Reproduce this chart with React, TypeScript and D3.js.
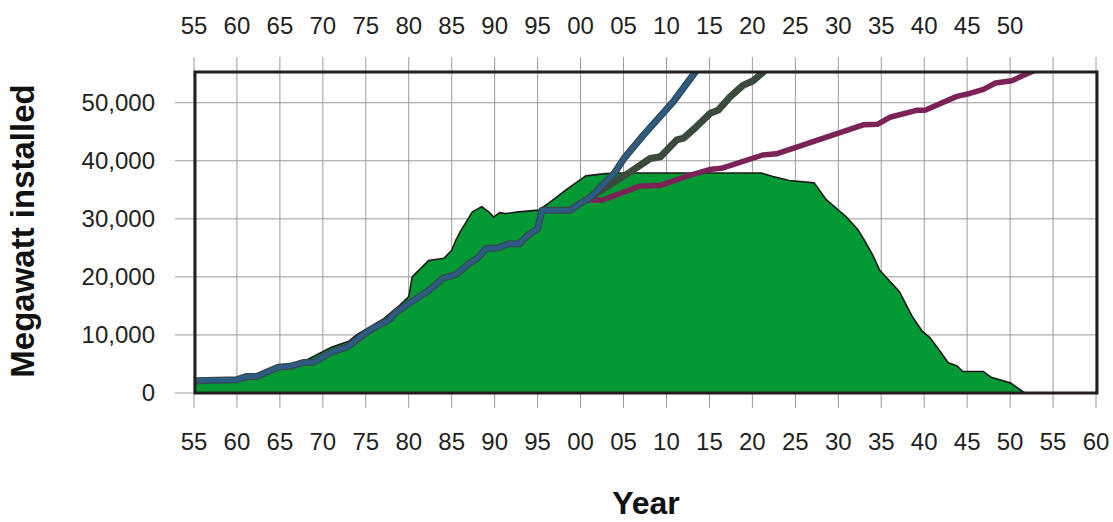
import React, { useEffect, useRef } from 'react'
import * as d3 from 'd3'

// installed capacity (area under black outline)
const installedYears = [1955, 1960, 1962, 1965, 1968, 1971, 1973, 1974, 1977, 1979, 1980, 1980.4, 1982.3, 1984.1, 1985, 1985.5, 1986, 1987.4, 1988.5, 1989.3, 1989.9, 1990.6, 1991.2, 1992.8, 1995.1, 1996.3, 1998.3, 2000.6, 2002.9, 2005, 2021, 2022.4, 2024.3, 2027.2, 2028.6, 2030.9, 2032.3, 2033, 2034, 2034.8, 2037.1, 2038.6, 2039.8, 2040.7, 2041.7, 2042.8, 2043.8, 2044.5, 2046.9, 2047.8, 2050.1, 2051.7]
const installedValues = [1900, 2100, 2500, 4300, 5600, 7900, 8900, 10100, 12700, 15200, 16600, 20000, 22800, 23200, 24600, 26400, 27800, 31200, 32100, 31200, 30300, 31100, 30900, 31200, 31500, 32700, 35000, 37400, 37800, 37900, 37900, 37300, 36600, 36200, 33300, 30400, 28100, 26400, 23800, 21200, 17500, 13200, 10600, 9500, 7500, 5200, 4700, 3700, 3700, 2700, 1700, 0]

// blue scenario
const blueYears = [1955, 1960, 1961.1, 1962.3, 1964.8, 1966.2, 1967.7, 1968.9, 1971.2, 1972.8, 1974.7, 1975.9, 1977.6, 1978.6, 1980.1, 1982.2, 1984, 1985.5, 1987.1, 1987.9, 1989, 1990.4, 1991.7, 1992.9, 1993.7, 1995, 1995.5, 1998.8, 2000, 2001.2, 2003.9, 2005, 2007.3, 2010.8, 2013.3, 2014]
const blueValues = [2100, 2300, 2850, 2850, 4450, 4600, 5250, 5300, 7150, 7900, 10000, 11200, 12500, 14000, 15500, 17500, 19800, 20400, 22400, 23100, 24900, 25000, 25700, 25700, 27000, 28300, 31500, 31500, 32700, 33800, 37800, 40300, 44400, 50200, 55200, 56500]

// dark green scenario
const darkYears = [2001.2, 2005.8, 2008.1, 2009.3, 2011.2, 2012, 2013.5, 2015.1, 2016, 2017.4, 2018.9, 2020.1, 2021.2, 2022]
const darkValues = [33800, 38100, 40400, 40700, 43600, 43900, 45900, 48200, 48700, 51000, 53000, 53800, 55200, 56500]

// purple scenario
const purpleYears = [2000.5, 2002.5, 2006.8, 2009.4, 2012.3, 2015, 2016.4, 2021.2, 2022.8, 2032.9, 2034.6, 2036, 2039.1, 2040.1, 2043.8, 2045.3, 2046.9, 2048.3, 2050.2, 2052.3, 2053.5]
const purpleValues = [33300, 33200, 35600, 35800, 37300, 38500, 38700, 41000, 41200, 46200, 46300, 47500, 48700, 48700, 51100, 51600, 52300, 53400, 53800, 55200, 56000]

const bottomTicks = d3.range(1955, 2061, 5)
const topTicks = d3.range(1955, 2051, 5)
const yTicks = [0, 10000, 20000, 30000, 40000, 50000]

const App = () => {
  const ref = useRef(null)

  useEffect(() => {
    const svg = d3.select(ref.current)
    svg.selectAll('*').remove()

    const left = 195
    const right = 1097
    const top = 72
    const bottom = 393
    const font = 'Arial, "Liberation Sans", sans-serif'

    const x = d3.scaleLinear().domain([1955, 2060]).range([194, 1096])
    const y = d3.scaleLinear().domain([0, 55300]).range([bottom, top])

    // grid
    const grid = svg.append('g').attr('stroke', '#9a9a9a').attr('stroke-width', 1)
    bottomTicks.forEach((t) => {
      grid.append('line').attr('x1', x(t)).attr('x2', x(t)).attr('y1', 57).attr('y2', 408)
    })
    yTicks.forEach((t) => {
      grid.append('line').attr('x1', 175).attr('x2', right).attr('y1', y(t)).attr('y2', y(t))
    })

    svg.append('clipPath').attr('id', 'plot-clip')
      .append('rect').attr('x', left).attr('y', top).attr('width', right - left).attr('height', bottom - top)

    const plot = svg.append('g').attr('clip-path', 'url(#plot-clip)')

    const installed = installedYears.map((yr, i) => [yr, installedValues[i]])
    const area = d3.area().x((d) => x(d[0])).y0(y(0)).y1((d) => y(d[1]))
    const line = d3.line().x((d) => x(d[0])).y((d) => y(d[1]))

    plot.append('path').attr('d', area(installed)).attr('fill', '#039935')
    plot.append('path').attr('d', line(installed)).attr('fill', 'none')
      .attr('stroke', '#1a1a1a').attr('stroke-width', 1.6).attr('stroke-linejoin', 'round')

    const purple = purpleYears.map((yr, i) => [yr, purpleValues[i]])
    plot.append('path').attr('d', line(purple)).attr('fill', 'none')
      .attr('stroke', '#7b2257').attr('stroke-width', 5.5).attr('stroke-linejoin', 'round')

    const dark = darkYears.map((yr, i) => [yr, darkValues[i]])
    plot.append('path').attr('d', line(dark)).attr('fill', 'none')
      .attr('stroke', '#3a4b3c').attr('stroke-width', 7).attr('stroke-linejoin', 'round')

    const blue = blueYears.map((yr, i) => [yr, blueValues[i]])
    plot.append('path').attr('d', line(blue)).attr('fill', 'none')
      .attr('stroke', '#37494f').attr('stroke-width', 7).attr('stroke-linejoin', 'round')
    plot.append('path').attr('d', line(blue)).attr('fill', 'none')
      .attr('stroke', '#2c5b84').attr('stroke-width', 4.5).attr('stroke-linejoin', 'round')

    // frame
    svg.append('rect').attr('x', left).attr('y', top).attr('width', right - left).attr('height', bottom - top)
      .attr('fill', 'none').attr('stroke', '#231f20').attr('stroke-width', 3)

    // tick labels
    const label = (t) => String(t % 100).padStart(2, '0')
    svg.append('g').selectAll('text').data(topTicks).join('text')
      .attr('x', (d) => x(d)).attr('y', 34).attr('text-anchor', 'middle')
      .style('font-family', font).style('font-size', '24px').attr('fill', '#231f20')
      .text(label)
    svg.append('g').selectAll('text').data(bottomTicks).join('text')
      .attr('x', (d) => x(d)).attr('y', 450).attr('text-anchor', 'middle')
      .style('font-family', font).style('font-size', '24px').attr('fill', '#231f20')
      .text(label)
    svg.append('g').selectAll('text').data(yTicks).join('text')
      .attr('x', 155).attr('y', (d) => y(d)).attr('dy', '0.35em').attr('text-anchor', 'end')
      .style('font-family', font).style('font-size', '24px').attr('fill', '#231f20')
      .text((d) => d3.format(',')(d))

    // axis titles
    svg.append('text')
      .attr('transform', 'translate(34,231) rotate(-90)')
      .attr('text-anchor', 'middle')
      .style('font-family', font).style('font-size', '33px').style('font-weight', 'bold')
      .attr('fill', '#111').text('Megawatt installed')
    svg.append('text')
      .attr('x', 646).attr('y', 514).attr('text-anchor', 'middle')
      .style('font-family', font).style('font-size', '32px').style('font-weight', 'bold')
      .attr('fill', '#111').text('Year')
  }, [])

  return (
    <svg ref={ref} width={1113} height={522} style={{ position: 'absolute', left: 0, top: 0, background: '#fff' }} />
  )
}

export default App
